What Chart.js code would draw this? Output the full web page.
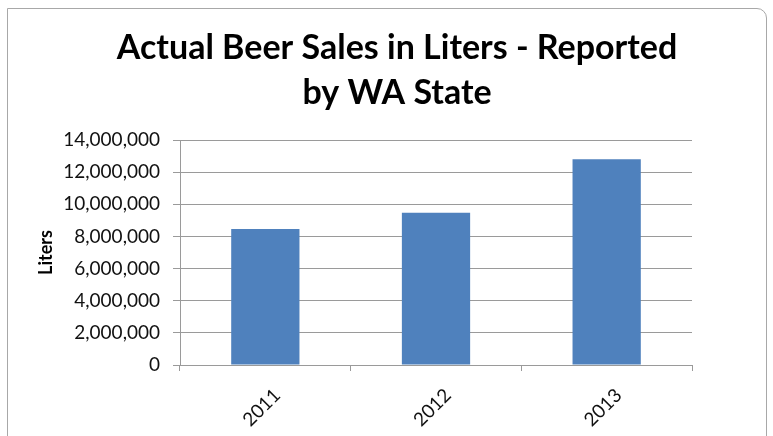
<!DOCTYPE html>
<html>
<head>
<meta charset="utf-8">
<script src="https://cdn.jsdelivr.net/npm/chart.js@4.4.1/dist/chart.umd.min.js"></script>
<style>
  html, body { margin: 0; padding: 0; background: #fff; }
  #wrap { position: relative; width: 773px; height: 436px; overflow: hidden; }
  #frame {
    position: absolute; left: 7px; top: 8px; width: 758px; height: 460px;
    border: 1px solid #a8a8a8; border-top-right-radius: 10px;
  }
  #salesChart { position: absolute; left: 0; top: 0; }
</style>
</head>
<body>
<div id="wrap">
  <div id="frame"></div>
  <canvas id="salesChart" width="773" height="436"></canvas>
</div>
<script>
// data
const years = ['2011', '2012', '2013'];
const litersSold = [8460000, 9480000, 12800000];
const chartTitle = ['Actual Beer Sales in Liters - Reported', 'by WA State'];
const axisTitle = 'Liters';

const FONT = 'Lato, "Open Sans", sans-serif';
const GRID = '#9a9a9a';

// title sits off-centre of the plot in the original, so draw it ourselves
const titlePlugin = {
    id: 'fixedTitle',
    afterDraw(chart) {
        const c = chart.ctx;
        c.save();
        c.fillStyle = '#000';
        c.font = 'bold 34px ' + FONT;
        c.textAlign = 'center';
        c.textBaseline = 'alphabetic';
        c.fillText(chartTitle[0], 397, 59);
        c.fillText(chartTitle[1], 397, 104);
        c.restore();
    }
};

function init() {
    const ctx = document.getElementById('salesChart').getContext('2d');

    new Chart(ctx, {
        type: 'bar',
        data: {
            labels: years,
            datasets: [{
                label: axisTitle,
                data: litersSold,
                backgroundColor: '#4f81bd',
                borderWidth: 0,
                barPercentage: 0.4,
                categoryPercentage: 1
            }]
        },
        options: {
            responsive: false,
            animation: false,
            layout: { padding: { left: 30, right: 81, top: 140, bottom: 0 } },
            plugins: {
                legend: { display: false },
                tooltip: { enabled: false },
                title: { display: false }
            },
            scales: {
                x: {
                    grid: { display: true, drawOnChartArea: false, drawTicks: true, tickLength: 6, color: GRID },
                    border: { display: true, color: GRID },
                    ticks: {
                        color: '#111',
                        font: { family: FONT, size: 19 },
                        minRotation: 45,
                        maxRotation: 45,
                        labelOffset: 12,
                        padding: 13
                    },
                    afterFit: (scale) => { scale.height = 71; }
                },
                y: {
                    min: 0,
                    max: 14000000,
                    ticks: {
                        stepSize: 2000000,
                        color: '#111',
                        font: { family: FONT, size: 19 },
                        padding: 13,
                        callback: (v) => v.toLocaleString('en-US')
                    },
                    grid: { color: GRID, tickLength: 7 },
                    border: { display: true, color: GRID },
                    title: {
                        display: true,
                        text: axisTitle,
                        color: '#000',
                        font: { family: FONT, size: 18, weight: 'bold' },
                        padding: { top: 5, bottom: 0 }
                    },
                    afterFit: (scale) => { scale.width = 150; }
                }
            }
        },
        plugins: [titlePlugin]
    });
}

document.addEventListener('DOMContentLoaded', init);
</script>
</body>
</html>
